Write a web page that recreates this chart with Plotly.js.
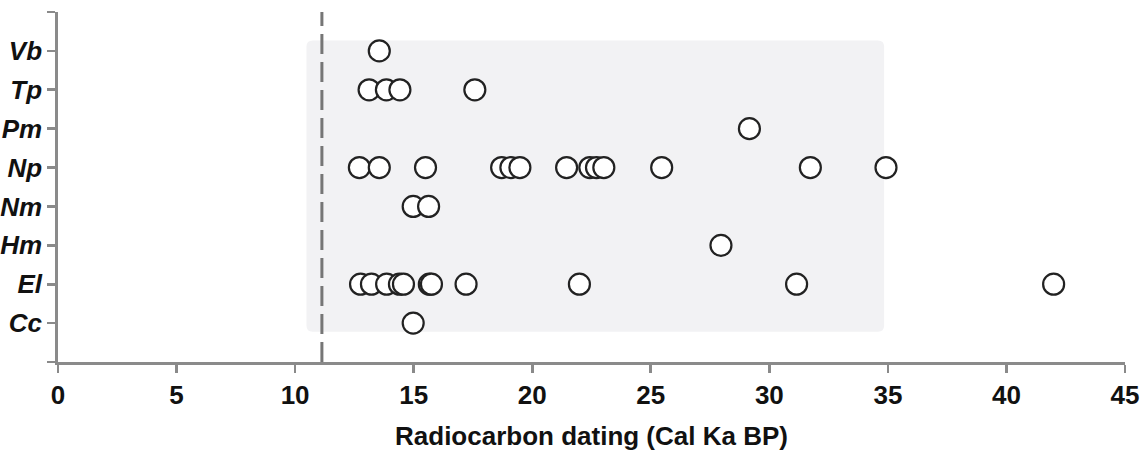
<!DOCTYPE html>
<html>
<head>
<meta charset="utf-8">
<script src="https://cdn.plot.ly/plotly-3.0.1.min.js"></script>
<style>html,body{margin:0;padding:0;background:#fff;}#chart{width:1144px;height:456px;}</style>
</head>
<body>
<div id="chart"></div>
<script>
// Categories (bottom to top)
const categories = ["Cc", "El", "Hm", "Nm", "Np", "Pm", "Tp", "Vb"];
// Radiocarbon dates (Cal Ka BP) per taxon
const datesCc = [14.98];
const datesEl = [12.76, 13.22, 13.86, 14.40, 14.57, 15.66, 15.75, 17.21, 21.99, 31.15, 41.99];
const datesHm = [27.96];
const datesNm = [14.98, 15.63];
const datesNp = [12.71, 13.55, 15.50, 18.71, 19.10, 19.48, 21.45, 22.43, 22.71, 23.02, 25.46, 31.73, 34.92];
const datesPm = [29.16];
const datesTp = [13.12, 13.85, 14.42, 17.58];
const datesVb = [13.55];
const seriesDates = [datesCc, datesEl, datesHm, datesNm, datesNp, datesPm, datesTp, datesVb];
// Reference line and shaded window
const dashedLineX = 11.13;
const shadeX = [10.48, 34.84];
const shadeY = [0.78, 8.27];
const xTickVals = [0, 5, 10, 15, 20, 25, 30, 35, 40, 45];

const xs = [], ys = [];
seriesDates.forEach((arr, i) => arr.forEach(v => { xs.push(v); ys.push(i + 1); }));

const trace = {
  x: xs, y: ys, type: 'scatter', mode: 'markers',
  marker: {size: 21, color: '#ffffff', line: {color: '#222222', width: 2.2}},
  hoverinfo: 'x+y', showlegend: false
};

// rounded rectangle path
const rx = 0.26, ry = 0.16;
const [x0, x1] = shadeX, [y0, y1] = shadeY;
const path = `M ${x0+rx},${y0} L ${x1-rx},${y0} Q ${x1},${y0} ${x1},${y0+ry} L ${x1},${y1-ry} Q ${x1},${y1} ${x1-rx},${y1} L ${x0+rx},${y1} Q ${x0},${y1} ${x0},${y1-ry} L ${x0},${y0+ry} Q ${x0},${y0} ${x0+rx},${y0} Z`;

const axisColor = '#8a8a8a';
const layout = {
  width: 1144, height: 456,
  margin: {l: 58, r: 19, t: 12, b: 94},
  paper_bgcolor: '#ffffff', plot_bgcolor: '#ffffff',
  font: {family: 'Liberation Sans, Arial, sans-serif', color: '#111111'},
  xaxis: {
    range: [0, 45], tickvals: xTickVals, ticktext: xTickVals.map(String),
    showgrid: false, zeroline: false, showline: true, linecolor: axisColor, linewidth: 2.7,
    ticks: 'outside', ticklen: 8, tickwidth: 2.7, tickcolor: axisColor,
    tickfont: {size: 26, weight: 'bold', color: '#111111'},
    title: {text: 'Radiocarbon dating (Cal Ka BP)', font: {size: 26, weight: 'bold', color: '#111111'}, standoff: 18}
  },
  yaxis: {
    range: [0, 9], tickvals: [0,1,2,3,4,5,6,7,8,9], ticktext: [''].concat(categories).concat(['']),
    showgrid: false, zeroline: false, showline: true, linecolor: axisColor, linewidth: 2.7,
    ticks: 'outside', ticklen: 8, tickwidth: 2.7, tickcolor: axisColor,
    tickfont: {size: 26, weight: 'bold', style: 'italic', color: '#111111'}
  },
  shapes: [
    {type: 'path', path: path, xref: 'x', yref: 'y', fillcolor: '#f2f2f4', line: {width: 0}, layer: 'below'},
    {type: 'line', xref: 'x', yref: 'y', x0: dashedLineX, x1: dashedLineX, y0: 0, y1: 9,
     line: {color: '#767676', width: 3, dash: '20px,8px'}, layer: 'below'}
  ]
};

Plotly.newPlot('chart', [trace], layout, {displayModeBar: false, staticPlot: true});
</script>
</body>
</html>
